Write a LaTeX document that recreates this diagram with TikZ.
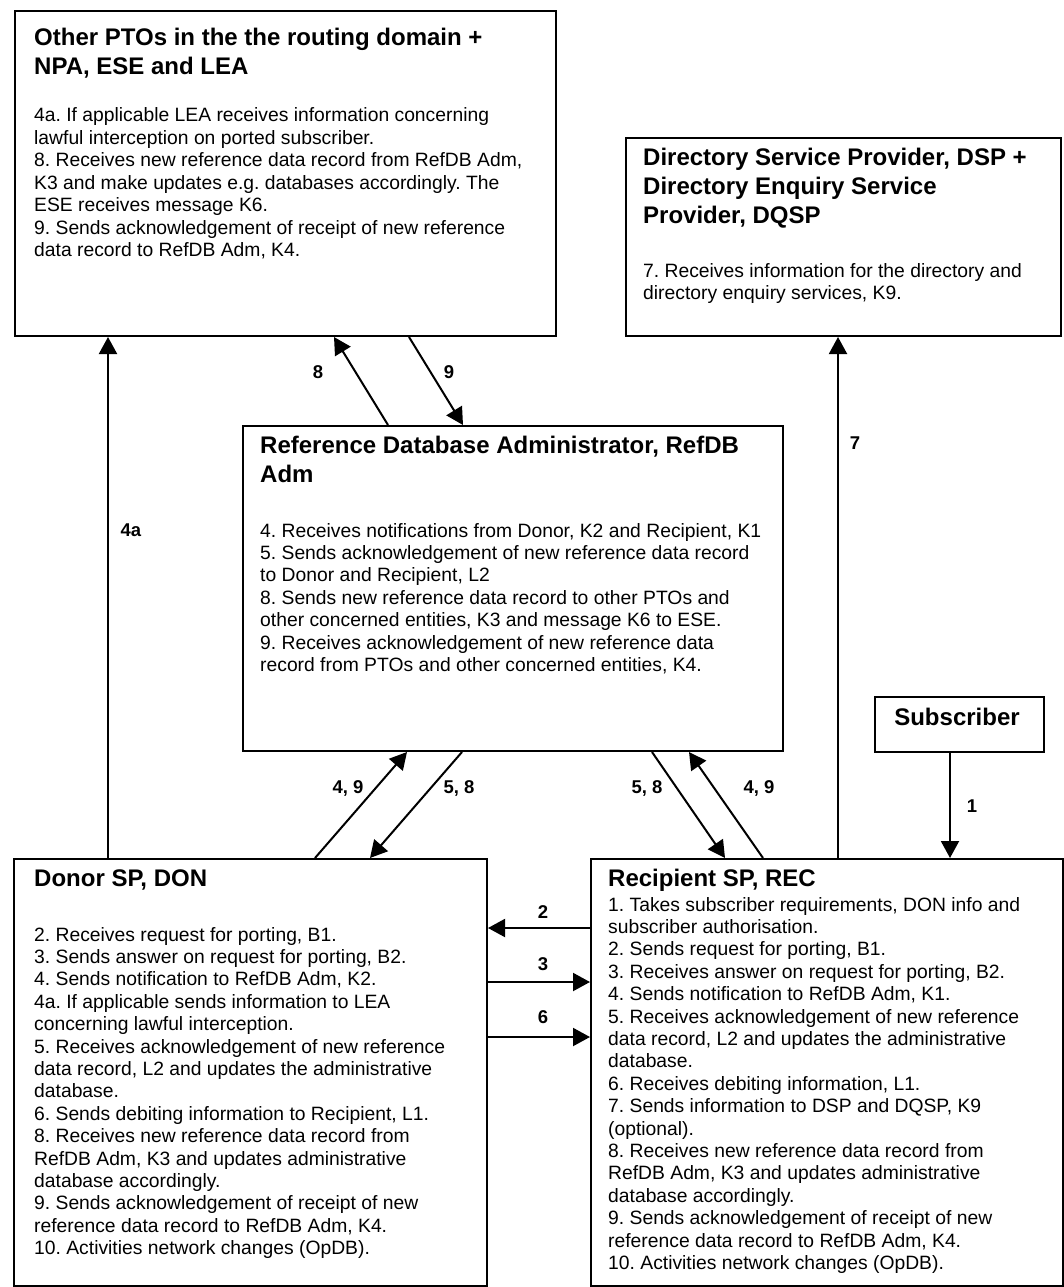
\documentclass[tikz,border=0pt]{standalone}
\usepackage{fontspec}
\setmainfont{Liberation Sans}
\usetikzlibrary{arrows.meta,calc}
\frenchspacing
\newcommand{\bodyf}{\fontsize{19.3pt}{22.4pt}\selectfont\frenchspacing}
\newcommand{\titlef}{\fontsize{24pt}{29pt}\selectfont\bfseries}
\newcommand{\lblf}{\fontsize{18.5pt}{22pt}\selectfont\bfseries}
\begin{document}
\begin{tikzpicture}[x=1pt,y=-1pt,
  box/.style={draw, line width=2pt, anchor=north west, inner sep=0pt},
  txt/.style={inner sep=0pt, anchor=base west},
  lbl/.style={inner sep=0pt, font=\lblf},
  arr/.style={line width=2pt, -{Triangle[length=17pt,width=18pt]}}]
\useasboundingbox[fill=white] (0,0) rectangle (1064,1287);

% boxes
\node[box, minimum width=541.5pt, minimum height=325pt] (pto) at (13.5,10) {};
\node[box, minimum width=435pt, minimum height=198pt] (dsp) at (625,137) {};
\node[box, minimum width=540pt, minimum height=325pt] (ref) at (242,425) {};
\node[box, minimum width=169pt, minimum height=55pt] (sub) at (874,696) {};
\node[box, minimum width=473pt, minimum height=427pt] (don) at (13,858) {};
\node[box, minimum width=472pt, minimum height=427pt] (rec) at (590,858) {};

% texts
\node[txt] (ptot) at (34,45.5) {\parbox[t]{520pt}{\titlef Other PTOs in the the routing domain +\\NPA, ESE and LEA}};
\node[txt] (ptob) at (34,122) {\parbox[t]{520pt}{\bodyf 4a. If applicable LEA receives information concerning\\
lawful interception on ported subscriber.\\
8. Receives new reference data record from RefDB Adm,\\
K3 and make updates e.g. databases accordingly. The\\
ESE receives message K6.\\
9. Sends acknowledgement of receipt of new reference\\
data record to RefDB Adm, K4.}};

\node[txt] (dspt) at (643,165.6) {\parbox[t]{420pt}{\titlef Directory Service Provider, DSP +\\Directory Enquiry Service\\Provider, DQSP}};
\node[txt] (dspb) at (643,277) {\parbox[t]{420pt}{\bodyf 7. Receives information for the directory and\\
directory enquiry services, K9.}};

\node[txt] (reft) at (260,453.6) {\parbox[t]{520pt}{\titlef Reference Database Administrator, RefDB\\Adm}};
\node[txt] (refb) at (260,537) {\parbox[t]{520pt}{\bodyf 4. Receives notifications from Donor, K2 and Recipient, K1\\
5. Sends acknowledgement of new reference data record\\
to Donor and Recipient, L2\\
8. Sends new reference data record to other PTOs and\\
other concerned entities, K3 and message K6 to ESE.\\
9. Receives acknowledgement of new reference data\\
record from PTOs and other concerned entities, K4.}};

\node[inner sep=0pt, anchor=base] (subt) at (957,725.6) {\titlef Subscriber};

\node[txt] (dont) at (34,886.6) {\parbox[t]{460pt}{\titlef Donor SP, DON}};
\node[txt] (donb) at (34,941) {\parbox[t]{460pt}{\bodyf 2. Receives request for porting, B1.\\
3. Sends answer on request for porting, B2.\\
4. Sends notification to RefDB Adm, K2.\\
4a. If applicable sends information to LEA\\
concerning lawful interception.\\
5. Receives acknowledgement of new reference\\
data record, L2 and updates the administrative\\
database.\\
6. Sends debiting information to Recipient, L1.\\
8. Receives new reference data record from\\
RefDB Adm, K3 and updates administrative\\
database accordingly.\\
9. Sends acknowledgement of receipt of new\\
reference data record to RefDB Adm, K4.\\
10. Activities network changes (OpDB).}};

\node[txt] (rect) at (608,886.6) {\parbox[t]{450pt}{\titlef Recipient SP, REC}};
\node[txt] (recb) at (608,911) {\parbox[t]{450pt}{\bodyf 1. Takes subscriber requirements, DON info and\\
subscriber authorisation.\\
2. Sends request for porting, B1.\\
3. Receives answer on request for porting, B2.\\
4. Sends notification to RefDB Adm, K1.\\
5. Receives acknowledgement of new reference\\
data record, L2 and updates the administrative\\
database.\\
6. Receives debiting information, L1.\\
7. Sends information to DSP and DQSP, K9\\
(optional).\\
8. Receives new reference data record from\\
RefDB Adm, K3 and updates administrative\\
database accordingly.\\
9. Sends acknowledgement of receipt of new\\
reference data record to RefDB Adm, K4.\\
10. Activities network changes (OpDB).}};

% connectors
\draw[arr] ([xshift=95pt]don.north west) -- ([xshift=95pt]don.north west |- pto.south);
\draw[arr] ([xshift=248pt]rec.north west) -- ([xshift=248pt]rec.north west |- dsp.south);
\draw[arr] ([xshift=76pt]sub.south west) -- ([xshift=76pt]sub.south west |- rec.north);
\draw[arr] ([xshift=146pt]ref.north west) -- ([xshift=320.5pt]pto.south west);
\draw[arr] ([xshift=395.5pt]pto.south west) -- ([xshift=221pt]ref.north west);
\draw[arr] ([xshift=302pt]don.north west) -- ([xshift=165pt]ref.south west);
\draw[arr] ([xshift=220pt]ref.south west) -- ([xshift=357pt]don.north west);
\draw[arr] ([xshift=410pt]ref.south west) -- ([xshift=135pt]rec.north west);
\draw[arr] ([xshift=173pt]rec.north west) -- ([xshift=447pt]ref.south west);
\draw[arr] ([yshift=-70pt]rec.north west) -- ([yshift=-70pt]rec.north west -| don.east);
\draw[arr] ([yshift=-124pt]don.north east) -- ([yshift=-124pt]don.north east -| rec.west);
\draw[arr] ([yshift=-179pt]don.north east) -- ([yshift=-179pt]don.north east -| rec.west);

% labels
\node[lbl] (l8) at (318,372) {8};
\node[lbl] (l9) at (449,372) {9};
\node[lbl] (l4a) at (131,530) {4a};
\node[lbl] (l7) at (855,443) {7};
\node[lbl] (l49a) at (348,788) {4, 9};
\node[lbl] (l58a) at (459,788) {5, 8};
\node[lbl] (l58b) at (647,788) {5, 8};
\node[lbl] (l49b) at (759,788) {4, 9};
\node[lbl] (l1) at (972,806) {1};
\node[lbl] (l2) at (543,912) {2};
\node[lbl] (l3) at (543,964) {3};
\node[lbl] (l6) at (543,1017) {6};
\end{tikzpicture}
\end{document}
